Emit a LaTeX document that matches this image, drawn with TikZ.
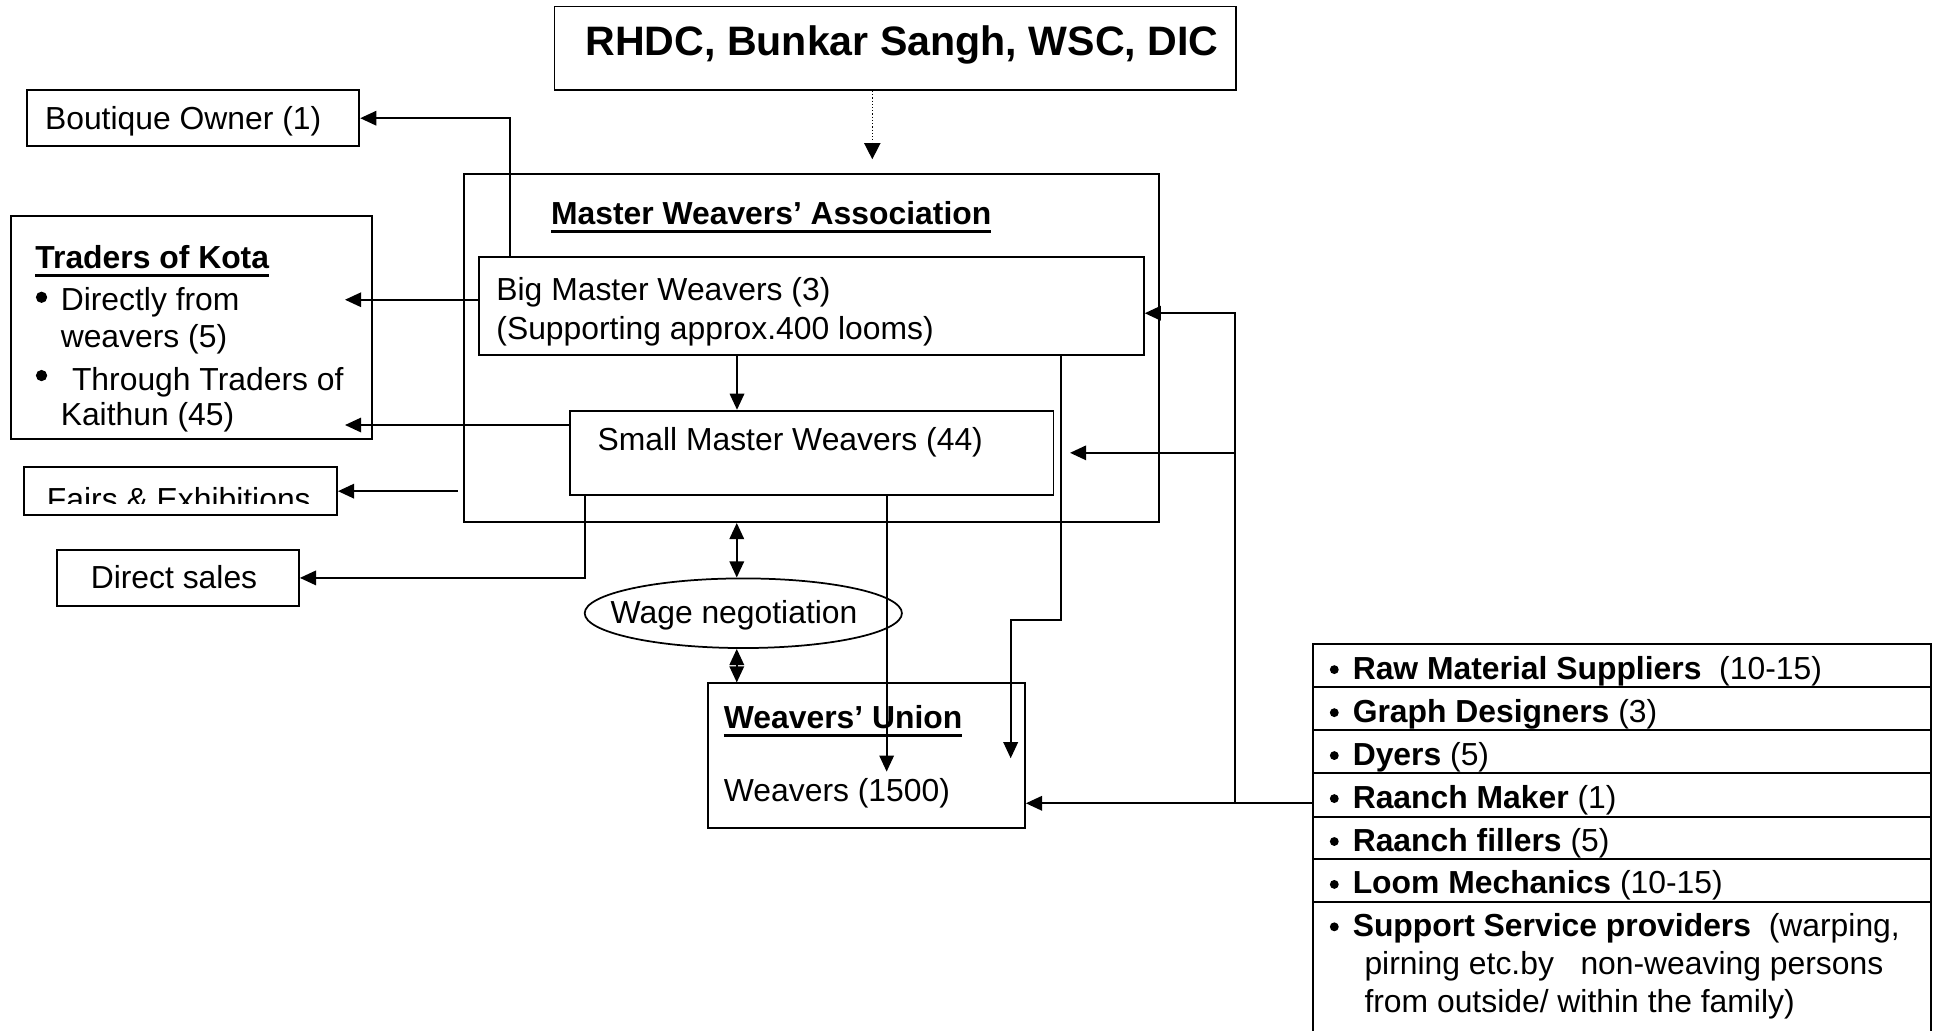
\documentclass[tikz,border=0pt]{standalone}
\usepackage{fontspec}
\setmainfont{Liberation Sans}
\usetikzlibrary{arrows.meta,fit,shapes.geometric}

% bold heading with a thick underline
\newcommand\undl[1]{\setbox0\hbox{#1}\rlap{\rule[-3pt]{\wd0}{0.9pt}}\box0}

\begin{document}
\begin{tikzpicture}[x=0.46pt,y=-0.46pt,
  box/.style={draw, line width=0.65pt, inner sep=0pt},
  txt/.style={anchor=base west, inner sep=0pt, yshift=-0.55pt, font=\fontsize{11.85}{14}\selectfont},
  link/.style={line width=0.65pt},
  arr/.style={line width=0.65pt, -{Triangle[length=6pt,width=5.4pt]}},
  dbl/.style={line width=0.65pt, {Triangle[length=6pt,width=5.4pt]}-{Triangle[length=6pt,width=5.4pt]}},
  dotarr/.style={line width=0.55pt, dash pattern=on 0.45pt off 0.75pt, -{Triangle[length=6pt,width=6pt]}},
  dot/.style={circle, fill, inner sep=0pt, minimum size=4.2pt},
  sdot/.style={circle, fill, inner sep=0pt, minimum size=3.3pt}]
\useasboundingbox (0,0) rectangle (1568,833);
\fill[white] (0,0) rectangle (1568,833);

% ---------- boxes ----------
\node[box, fit={(448.5,5.2) (999.3,72.8)}] (gov) {};
\node[txt, font=\fontsize{15.3}{18}\selectfont\bfseries] (govt) at (473,44) {RHDC, Bunkar Sangh, WSC, DIC};

\node[box, fit={(21.7,72.9) (290.6,118.3)}] (boutique) {};
\node[txt] (boutiquet) at (36,103.5) {Boutique Owner (1)};

\node[box, fit={(9,174.6) (300.7,354.9)}] (traders) {};
\node[txt] (traderst) at (28.2,216) {\undl{\textbf{Traders of Kota}}};
\node[dot] (tb1) at (33.6,240.4) {};
\node[txt] (tl1) at (48.7,250) {Directly from};
\node[txt] (tl2) at (48.7,280) {weavers (5)};
\node[dot] (tb2) at (33.6,303.7) {};
\node[txt] (tl3) at (57.8,314.5) {Through Traders of};
\node[txt] (tl4) at (48.7,342.5) {Kaithun (45)};

\node[box, fit={(19.7,377.9) (272.6,416.5)}] (fairs) {};
\begin{scope}
  \clip (19.7,377.9) rectangle (272.6,407);
  \node[txt] (fairst) at (37.5,412) {Fairs \& Exhibitions};
\end{scope}

\node[box, fit={(45.9,444.6) (241.8,490.1)}] (direct) {};
\node[txt] (directt) at (73,474.6) {Direct sales};

\node[box, fit={(375,140.7) (937.3,422.2)}] (mwa) {};
\node[txt] (mwat) at (445.2,180.5) {\undl{\textbf{Master Weavers’ Association}}};

\node[box, fit={(387.4,207.9) (925,287.3)}] (bigmw) {};
\node[txt] (bigt1) at (401,242) {Big Master Weavers (3)};
\node[txt] (bigt2) at (401,273) {(Supporting approx.400 looms)};

\node[box, fit={(461,332.1) (852,400)}] (smallmw) {};
\node[txt] (smallt) at (482.8,362.8) {Small Master Weavers (44)};

\node[draw, ellipse, line width=0.65pt, inner sep=0pt,
      minimum width=118pt, minimum height=25.9pt] (wage) at (601.1,495.9) {};
\node[txt] (waget) at (493.4,502.7) {Wage negotiation};

\node[box, fit={(572.7,552.6) (828.9,669.3)}] (union) {};
\node[txt] (uniont) at (585,588) {\undl{\textbf{Weavers’ Union}}};
\node[txt] (weaverst) at (585,647) {Weavers (1500)};

% service providers list (runs off the lower edge)
\node[box, fit={(1061.8,520.8) (1561.4,845)}] (supp) {};
\foreach \yy in {555.8,590.3,625.4,660.4,694.9,729.7}
  \draw[link] (supp.west |- 0,\yy) -- (supp.east |- 0,\yy);
\node[sdot] (s1) at (1079,541.5) {};
\node[txt] (r1) at (1093.5,548) {\textbf{Raw Material Suppliers}\ \ (10-15)};
\node[sdot] (s2) at (1079,576.3) {};
\node[txt] (r2) at (1093.5,582.8) {\textbf{Graph Designers} (3)};
\node[sdot] (s3) at (1079,611) {};
\node[txt] (r3) at (1093.5,617.5) {\textbf{Dyers} (5)};
\node[sdot] (s4) at (1079,645.8) {};
\node[txt] (r4) at (1093.5,652.3) {\textbf{Raanch Maker} (1)};
\node[sdot] (s5) at (1079,680.5) {};
\node[txt] (r5) at (1093.5,687) {\textbf{Raanch fillers} (5)};
\node[sdot] (s6) at (1079,715.2) {};
\node[txt] (r6) at (1093.5,721.7) {\textbf{Loom Mechanics} (10-15)};
\node[sdot] (s7) at (1079,749.5) {};
\node[txt] (r7a) at (1093.5,756) {\textbf{Support Service providers}\ \ (warping,};
\node[txt] (r7b) at (1103,787) {pirning etc.by\ \ \ non-weaving persons};
\node[txt] (r7c) at (1103,817.5) {from outside/ within the family)};

% ---------- connectors ----------
\coordinate (govtip) at (705.4,128.8);
\draw[dotarr] (gov.south -| govtip) -- (govtip);

\coordinate (bq) at (412.3,95.3);
\draw[arr] (bigmw.north -| bq) |- (boutique.east);

\coordinate (tk1) at (279,242.4);
\draw[arr] (bigmw.west |- tk1) -- (tk1);
\coordinate (tk2) at (279,343.7);
\draw[arr] (smallmw.west |- tk2) -- (tk2);

\coordinate (fx) at (370.1,397.2);
\draw[arr] (fx) -- (fairs.east);

\coordinate (ds) at (473,0);
\draw[arr] (smallmw.south -| ds) |- (direct.east);

\coordinate (bs) at (596,0);
\draw[arr] (bigmw.south -| bs) -- (smallmw.north -| bs);

\coordinate (wn) at (595.8,0);
\draw[dbl] (mwa.south -| wn) -- (wage.north -| wn);
\draw[dbl] (wage.south -| wn) -- (union.north -| wn);

\coordinate (sw) at (717,624);
\draw[arr] (smallmw.south -| sw) -- (sw);

\coordinate (bw1) at (857.7,501.4);
\coordinate (bw2) at (817.3,613.2);
\draw[arr] (bigmw.south -| bw1) -- (bw1) -| (bw2);

\coordinate (sj) at (998.8,649.6);
\draw[arr] (supp.west |- sj) -- (union.east |- sj);
\draw[arr] (sj) |- (bigmw.east |- 0,253.3);
\coordinate (sm) at (865.3,366.2);
\draw[arr] (sj |- sm) -- (sm);
\end{tikzpicture}
\end{document}
